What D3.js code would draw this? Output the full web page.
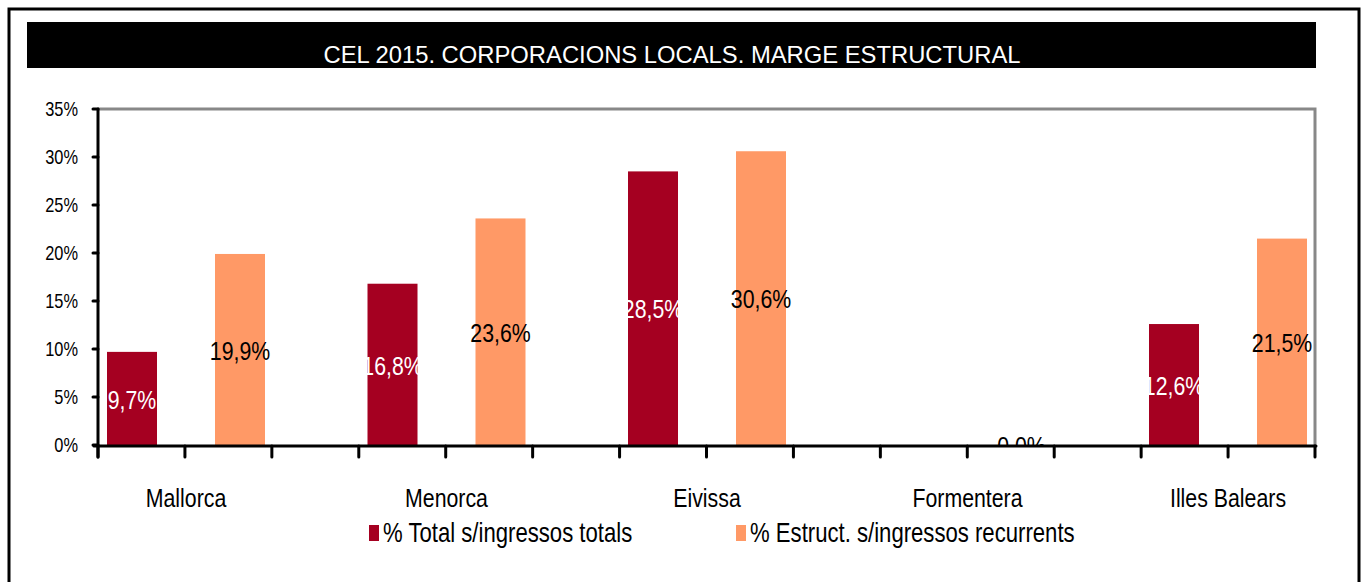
<!DOCTYPE html>
<html>
<head>
<meta charset="utf-8">
<script src="https://cdn.jsdelivr.net/npm/d3@7"></script>
<style>
  html, body { margin: 0; padding: 0; background: #fff; }
  svg { display: block; }
  text { font-family: "Liberation Sans", Arial, sans-serif; }
</style>
</head>
<body>
<script>
// ---- data ----
const title = "CEL 2015. CORPORACIONS LOCALS. MARGE ESTRUCTURAL";
const categories = ["Mallorca", "Menorca", "Eivissa", "Formentera", "Illes Balears"];
const seriesNames = ["% Total s/ingressos totals", "% Estruct. s/ingressos recurrents"];
const totalValues = [9.7, 16.8, 28.5, 0.0, 12.6];
const estructValues = [19.9, 23.6, 30.6, 0.0, 21.5];
const yTicks = [0, 5, 10, 15, 20, 25, 30, 35];
const xTickCount = 15;

// ---- layout ----
const W = 1368, H = 582;
const plot = { left: 98, right: 1315, top: 109, bottom: 445 };
const colors = ["#A50021", "#FF9966"];
const labelColors = ["#ffffff", "#000000"];
const SQ = 0.82; // horizontal condensing to mimic a narrow typeface

const svg = d3.select("body").append("svg").attr("width", W).attr("height", H);

// helper: place condensed text
function place(sel, fx, fy) {
  sel.attr("x", 0).attr("y", 0)
    .attr("transform", (d, i) => `translate(${fx(d, i)},${fy(d, i)}) scale(${SQ},1)`);
  return sel;
}

// outer frame
svg.append("rect").attr("x", 9).attr("y", 9).attr("width", 1350).attr("height", 600)
  .attr("fill", "none").attr("stroke", "#000").attr("stroke-width", 3);

// title bar
svg.append("rect").attr("x", 27).attr("y", 22).attr("width", 1289).attr("height", 46).attr("fill", "#000");
svg.append("text").attr("x", 672).attr("y", 63).attr("text-anchor", "middle")
  .attr("fill", "#fff").attr("font-size", 24)
  .attr("textLength", 697).attr("lengthAdjust", "spacingAndGlyphs")
  .text(title);

// scales
const y = d3.scaleLinear().domain([0, 35]).range([plot.bottom, plot.top]);
const groupStep = 260.5;
const x0 = d3.scaleBand().domain(categories)
  .range([107, 107 + groupStep * categories.length]).paddingInner(0).paddingOuter(0);
const x1 = d3.scaleBand().domain([0, 1]).range([0, 158]).paddingInner(0.537).paddingOuter(0);
const xTickScale = d3.scaleLinear().domain([0, xTickCount - 1]).range([plot.left, plot.right]);

// clip
svg.append("clipPath").attr("id", "plotClip").append("rect")
  .attr("x", plot.left).attr("y", plot.top)
  .attr("width", plot.right - plot.left).attr("height", plot.bottom - plot.top);

const rows = categories.map((c, i) => ({ cat: c, vals: [totalValues[i], estructValues[i]] }));

const g = svg.append("g").attr("clip-path", "url(#plotClip)");
const grp = g.selectAll("g.grp").data(rows).join("g")
  .attr("class", "grp").attr("transform", d => `translate(${x0(d.cat)},0)`);

grp.selectAll("rect").data(d => d.vals.map((v, s) => ({ v, s }))).join("rect")
  .attr("x", d => x1(d.s)).attr("width", x1.bandwidth())
  .attr("y", d => y(Math.max(0, d.v))).attr("height", d => Math.abs(y(d.v) - y(0)))
  .attr("fill", d => colors[d.s]);

const fmt = v => d3.format(".1f")(v).replace(".", ",") + "%";
const vl = grp.selectAll("text").data(d => d.vals.map((v, s) => ({ v, s }))).join("text")
  .attr("text-anchor", "middle").attr("dominant-baseline", "central")
  .attr("font-size", 26).attr("fill", d => labelColors[d.s])
  .text(d => fmt(d.v));
place(vl, d => x1(d.s) + x1.bandwidth() / 2, d => y(d.v / 2) + 1);

// top & right gray borders
svg.append("path")
  .attr("d", `M${plot.left},${plot.top}H${plot.right}V${plot.bottom}`)
  .attr("fill", "none").attr("stroke", "#888").attr("stroke-width", 3);

// y axis
const yAxis = svg.append("g");
yAxis.append("line").attr("x1", plot.left).attr("x2", plot.left)
  .attr("y1", plot.top).attr("y2", plot.bottom + 12)
  .attr("stroke", "#000").attr("stroke-width", 3).attr("stroke-linecap", "round");
yAxis.selectAll("line.tk").data(yTicks).join("line").attr("class", "tk")
  .attr("x1", plot.left - 5).attr("x2", plot.left)
  .attr("y1", d => y(d)).attr("y2", d => y(d))
  .attr("stroke", "#000").attr("stroke-width", 3).attr("stroke-linecap", "round");
const yl = yAxis.selectAll("text").data(yTicks).join("text")
  .attr("text-anchor", "end")
  .attr("dominant-baseline", "central").attr("font-size", 20).attr("fill", "#000")
  .text(d => d + "%");
place(yl, () => 78, d => y(d));

// x axis
const xAxis = svg.append("g");
xAxis.append("line").attr("x1", plot.left - 4).attr("x2", plot.right + 1)
  .attr("y1", plot.bottom + 1).attr("y2", plot.bottom + 1)
  .attr("stroke", "#000").attr("stroke-width", 3).attr("stroke-linecap", "round");
xAxis.selectAll("line.tk").data(d3.range(xTickCount)).join("line").attr("class", "tk")
  .attr("x1", d => xTickScale(d)).attr("x2", d => xTickScale(d))
  .attr("y1", plot.bottom + 1).attr("y2", plot.bottom + 12)
  .attr("stroke", "#000").attr("stroke-width", 3).attr("stroke-linecap", "round");
const xl = xAxis.selectAll("text").data(categories).join("text")
  .attr("text-anchor", "middle")
  .attr("font-size", 26).attr("fill", "#000")
  .text(d => d);
place(xl, d => x0(d) + 79, () => 507);

// legend
const legendX = [369, 736];
const leg = svg.append("g").selectAll("g").data(seriesNames).join("g")
  .attr("transform", (d, i) => `translate(${legendX[i]},533)`);
leg.append("rect").attr("x", 0).attr("y", -8).attr("width", 10).attr("height", 16)
  .attr("fill", (d, i) => colors[i]);
const lt = leg.append("text").attr("dominant-baseline", "central")
  .attr("font-size", 27).attr("fill", "#000")
  .text(d => d);
place(lt, () => 14, () => 0);
</script>
</body>
</html>
